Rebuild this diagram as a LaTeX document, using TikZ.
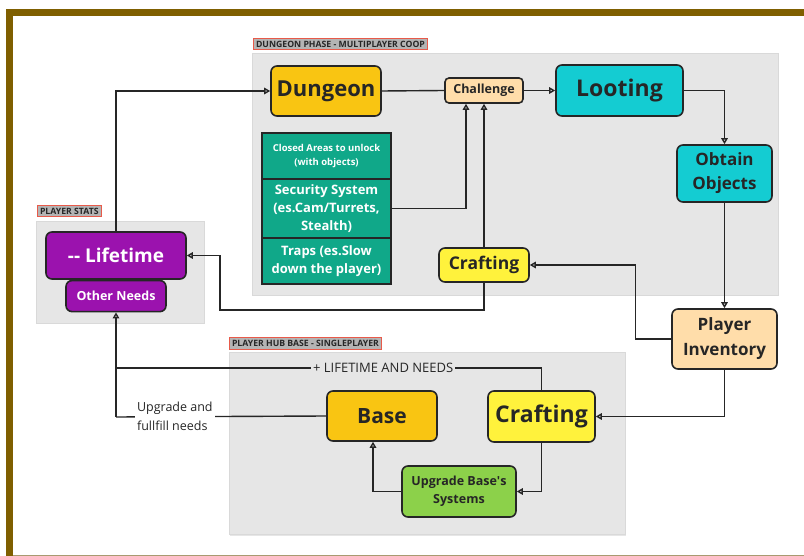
\documentclass[tikz,border=0pt]{standalone}
\usepackage{fontspec}
\setmainfont{Open Sans}
\usepackage{xcolor}
\usepackage{tikz}
\usetikzlibrary{positioning, arrows.meta, shadows}
\definecolor{framebrown}{RGB}{127, 95, 0}
\definecolor{framebase}{RGB}{168, 154, 112}
\definecolor{groupgray}{RGB}{230, 230, 230}
\definecolor{labelgray}{RGB}{180, 180, 180}
\definecolor{labelred}{RGB}{232, 90, 74}
\definecolor{edgedark}{RGB}{38, 38, 38}
\definecolor{dungeonyellow}{RGB}{249, 197, 18}
\definecolor{peach}{RGB}{255, 221, 170}
\definecolor{lootcyan}{RGB}{20, 204, 210}
\definecolor{craftyellow}{RGB}{255, 242, 60}
\definecolor{statpurple}{RGB}{155, 18, 174}
\definecolor{trapteal}{RGB}{16, 168, 137}
\definecolor{upgreen}{RGB}{140, 209, 74}

\begin{document}
\begin{tikzpicture}[x=1pt, y=-1pt,
    box/.style={draw=edgedark, line width=1.6pt, rounded corners=6pt, align=center,
        text=edgedark, inner sep=0pt},
    cell/.style={draw=edgedark, line width=2pt, fill=trapteal, text=white, align=center,
        inner sep=0pt, minimum width=129pt},
    grp/.style={fill=groupgray, draw=black!15, line width=0.4pt,
        drop shadow={shadow xshift=1pt, shadow yshift=-1.5pt, opacity=0.2}},
    grplbl/.style={fill=labelgray, draw=labelred, line width=1pt, anchor=west,
        inner sep=2.5pt, text=edgedark, font=\bfseries\fontsize{8.7}{10}\selectfont},
    arr/.style={draw=edgedark, line width=1.4pt, -{Triangle[fill=white, length=6pt, width=6.5pt]}},
    wire/.style={draw=edgedark, line width=1.4pt},
    note/.style={font=\fontsize{12.5}{19}\selectfont, text=edgedark, inner sep=2pt}]
    \useasboundingbox (0,0) rectangle (804,556);
    % Frame
    \fill[framebrown] (6,9) rectangle (804,16);
    \fill[framebrown] (6,9) rectangle (13,556);
    \fill[framebase] (13,554.5) rectangle (804,556);
    % Groups
    \draw[grp] (252,53) rectangle (778,295);
    \draw[grp] (36,221) rectangle (204,323);
    \draw[grp] (229,352) rectangle (625,534);
    \node[grplbl] (dungeonlbl) at (253,44) {DUNGEON PHASE - MULTIPLAYER COOP};
    \node[grplbl] (statslbl) at (37,211) {PLAYER STATS};
    \node[grplbl] (hublbl) at (229,343.5) {PLAYER HUB BASE - SINGLEPLAYER};
    % Dungeon phase
    \node[box, fill=dungeonyellow, minimum width=110pt, minimum height=50pt,
        font=\bfseries\fontsize{22}{26}\selectfont] (dungeon) at (326,91) {Dungeon};
    \node[box, fill=peach, minimum width=78pt, minimum height=25pt, rounded corners=4pt,
        font=\bfseries\fontsize{12.5}{15}\selectfont] (challenge) at (484,90.5) {Challenge};
    \node[box, fill=lootcyan, minimum width=127pt, minimum height=51pt,
        font=\bfseries\fontsize{23}{27}\selectfont] (looting) at (619.5,90.5) {Looting};
    \node[box, fill=lootcyan, minimum width=95pt, minimum height=57pt,
        font=\bfseries\fontsize{17}{24}\selectfont] (obtain) at (724.5,173.5) {Obtain\\Objects};
    \node[box, fill=peach, minimum width=105pt, minimum height=60pt,
        font=\bfseries\fontsize{17}{25}\selectfont] (inventory) at (724.5,339) {Player\\Inventory};
    \node[box, fill=craftyellow, minimum width=90pt, minimum height=34pt,
        font=\bfseries\fontsize{17.5}{20}\selectfont] (craftdun) at (484,265) {Crafting};
    % Obstacles
    \node[cell, minimum height=46pt, font=\bfseries\fontsize{9.5}{14.5}\selectfont]
        (closed) at (326.5,156) {Closed Areas to unlock\\(with objects)};
    \node[cell, minimum height=59pt, below=-2pt of closed, font=\bfseries\fontsize{13}{18}\selectfont]
        (security) {Security System\\(es.Cam/Turrets,\\Stealth)};
    \node[cell, minimum height=46pt, below=-2pt of security, font=\bfseries\fontsize{13}{18}\selectfont]
        (traps) {Traps (es.Slow\\down the player)};
    % Player stats
    \node[box, fill=statpurple, text=white, minimum width=140pt, minimum height=47pt,
        font=\bfseries\fontsize{19}{22}\selectfont] (lifetime) at (116,255.5) {-{}- Lifetime};
    \node[box, fill=statpurple, text=white, minimum width=100pt, minimum height=31pt,
        below=0pt of lifetime, font=\bfseries\fontsize{12.5}{15}\selectfont] (needs) {Other Needs};
    % Player hub base
    \node[box, fill=dungeonyellow, minimum width=110pt, minimum height=50pt,
        font=\bfseries\fontsize{21}{25}\selectfont] (base) at (382,416) {Base};
    \node[box, fill=craftyellow, minimum width=107pt, minimum height=51pt,
        font=\bfseries\fontsize{23}{27}\selectfont] (crafthub) at (541.5,416.5) {Crafting};
    \node[box, fill=upgreen, minimum width=114pt, minimum height=51pt,
        font=\bfseries\fontsize{12.5}{18}\selectfont] (upgrade) at (459,491.5)
        {Upgrade Base\textquotesingle s\\Systems};
    % Connectors
    \coordinate (backbend) at (220,310);
    \coordinate (lifejoin) at (116,368);
    \coordinate (upjoin) at (116,417);
    \draw[arr] (lifetime.north) |- (dungeon.west);
    \draw[wire] (dungeon.east) -- (challenge.west);
    \draw[arr] (challenge.east) -- (looting.west);
    \draw[arr] (looting.east) -| (obtain.north);
    \draw[arr] (obtain.south) -- (inventory.north);
    \draw[arr] (inventory.west) -- ++(-36,0) |- (craftdun.east);
    \draw[arr] (inventory.south) |- (crafthub.east);
    \draw[arr] (craftdun.north) -- (challenge.south);
    \draw[arr] (security.east) -| ([xshift=-18pt]challenge.south);
    \draw[arr] (craftdun.south) |- (backbend) |- (lifetime.east);
    \draw[wire] (crafthub.north) |- (lifejoin)
        node[note, pos=0.686, fill=groupgray, font=\fontsize{13}{15}\selectfont] (lifelbl) {+ LIFETIME AND NEEDS};
    \draw[arr] (lifejoin) -- (needs.south);
    \draw[wire] (base.west) -- (upjoin)
        node[note, pos=0.72, fill=white, align=left] (upgradelbl) {Upgrade and\\fullfill needs};
    \draw[wire] (upjoin) -- (lifejoin);
    \draw[arr] (crafthub.south) |- (upgrade.east);
    \draw[arr] (upgrade.west) -| ([xshift=-9pt]base.south);
\end{tikzpicture}
\end{document}
